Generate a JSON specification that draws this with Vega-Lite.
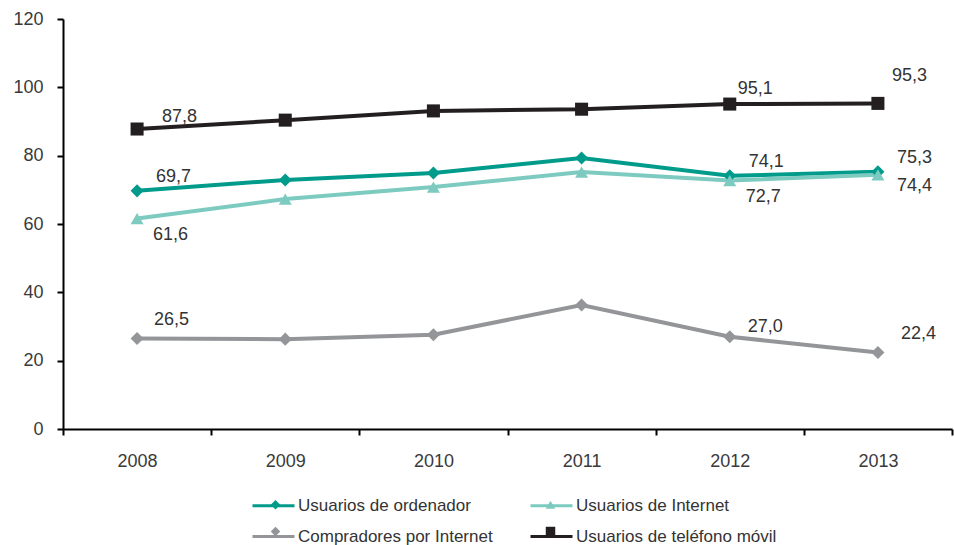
{
  "$schema": "https://vega.github.io/schema/vega-lite/v6.json",
  "width": 889,
  "height": 410,
  "autosize": "none",
  "padding": {"left": 63, "top": 19, "right": 2, "bottom": 116},
  "background": "white",
  "config": {
    "view": {"stroke": null},
    "font": "Liberation Sans",
    "locale": {"number": {"decimal": ",", "thousands": ".", "grouping": [3], "currency": ["", " €"]}},
    "axis": {"labelFont": "Liberation Sans", "labelColor": "#3a3a3a", "labelFontSize": 18, "domainColor": "#000000", "domainWidth": 2, "tickColor": "#000000", "tickWidth": 2, "tickSize": 6, "grid": false, "title": null},
    "text": {"align": "left", "baseline": "middle", "fontSize": 18, "color": "#333333", "font": "Liberation Sans"}
  },
  "data": {"values": [
    {"year": "2008", "series": "Usuarios de ordenador", "value": 69.7},
    {"year": "2009", "series": "Usuarios de ordenador", "value": 72.9},
    {"year": "2010", "series": "Usuarios de ordenador", "value": 74.9},
    {"year": "2011", "series": "Usuarios de ordenador", "value": 79.3},
    {"year": "2012", "series": "Usuarios de ordenador", "value": 74.1},
    {"year": "2013", "series": "Usuarios de ordenador", "value": 75.3},
    {"year": "2008", "series": "Usuarios de Internet", "value": 61.6},
    {"year": "2009", "series": "Usuarios de Internet", "value": 67.3},
    {"year": "2010", "series": "Usuarios de Internet", "value": 70.8},
    {"year": "2011", "series": "Usuarios de Internet", "value": 75.2},
    {"year": "2012", "series": "Usuarios de Internet", "value": 72.7},
    {"year": "2013", "series": "Usuarios de Internet", "value": 74.4},
    {"year": "2008", "series": "Compradores por Internet", "value": 26.5},
    {"year": "2009", "series": "Compradores por Internet", "value": 26.3},
    {"year": "2010", "series": "Compradores por Internet", "value": 27.6},
    {"year": "2011", "series": "Compradores por Internet", "value": 36.3},
    {"year": "2012", "series": "Compradores por Internet", "value": 27.0},
    {"year": "2013", "series": "Compradores por Internet", "value": 22.4},
    {"year": "2008", "series": "Usuarios de teléfono móvil", "value": 87.8},
    {"year": "2009", "series": "Usuarios de teléfono móvil", "value": 90.4},
    {"year": "2010", "series": "Usuarios de teléfono móvil", "value": 93.1},
    {"year": "2011", "series": "Usuarios de teléfono móvil", "value": 93.6},
    {"year": "2012", "series": "Usuarios de teléfono móvil", "value": 95.1},
    {"year": "2013", "series": "Usuarios de teléfono móvil", "value": 95.3}
  ]},
  "encoding": {
    "x": {"field": "year", "type": "ordinal", "scale": {"type": "band", "paddingInner": 0, "paddingOuter": 0},
      "axis": {"labelAngle": 0, "tickBand": "extent", "labelPadding": 17, "domainWidth": 2}},
    "y": {"field": "value", "type": "quantitative", "scale": {"domain": [0, 120], "nice": false},
      "axis": {"values": [0, 20, 40, 60, 80, 100, 120], "labelPadding": 14}}
  },
  "layer": [
    {
      "mark": {"type": "line", "strokeWidth": 4},
      "encoding": {
        "color": {"field": "series", "type": "nominal",
          "sort": ["Usuarios de ordenador", "Usuarios de Internet", "Compradores por Internet", "Usuarios de teléfono móvil"],
          "scale": {"range": ["#009b8b", "#7dcbc0", "#939598", "#231f20"]},
          "legend": {"orient": "none", "legendX": 188, "legendY": 464, "columns": 2, "title": null, "direction": "horizontal",
            "symbolType": "stroke", "symbolSize": 1764, "symbolStrokeWidth": 3, "labelFontSize": 17, "labelColor": "#333333",
            "labelFont": "Liberation Sans", "labelOffset": 2, "rowPadding": -19, "columnPadding": 31, "padding": 0, "labelLimit": 400}
        }
      }
    },
    {
      "mark": {"type": "point", "filled": true, "opacity": 1, "strokeWidth": 0},
      "encoding": {
        "fill": {"field": "series", "type": "nominal",
          "scale": {"domain": ["Usuarios de ordenador", "Usuarios de Internet", "Compradores por Internet", "Usuarios de teléfono móvil"],
            "range": ["#009b8b", "#7dcbc0", "#939598", "#231f20"]},
          "legend": {"orient": "none", "legendX": 204, "legendY": 477, "columns": 2, "title": null, "direction": "horizontal",
            "symbolSize": 90, "symbolStrokeWidth": 0, "labelFontSize": 17, "labelColor": "#333333", "labelOpacity": 0,
            "labelFont": "Liberation Sans", "labelOffset": 32, "rowPadding": 9, "columnPadding": 31, "padding": 0, "labelLimit": 400}
        },
        "shape": {"field": "series", "type": "nominal",
          "scale": {"domain": ["Usuarios de ordenador", "Usuarios de Internet", "Compradores por Internet", "Usuarios de teléfono móvil"],
            "range": ["diamond", "triangle-up", "diamond", "square"]},
          "legend": {"orient": "none", "legendX": 204, "legendY": 477, "columns": 2, "title": null, "direction": "horizontal",
            "symbolSize": 90, "symbolStrokeWidth": 0, "labelFontSize": 17, "labelColor": "#333333", "labelOpacity": 0,
            "labelFont": "Liberation Sans", "labelOffset": 32, "rowPadding": 9, "columnPadding": 31, "padding": 0, "labelLimit": 400}
        },
        "size": {"value": 170}
      }
    },
    {
      "transform": [{"filter": "datum.series == 'Usuarios de ordenador' && (datum.year == '2008' || datum.year == '2012' || datum.year == '2013')"}],
      "mark": {"type": "text", "dx": 19, "dy": -14},
      "encoding": {"text": {"field": "value", "type": "quantitative", "format": ".1f"}}
    },
    {
      "transform": [{"filter": "datum.series == 'Usuarios de teléfono móvil' && datum.year == '2008'"}],
      "mark": {"type": "text", "dx": 25, "dy": -12},
      "encoding": {"text": {"field": "value", "type": "quantitative", "format": ".1f"}}
    },
    {
      "transform": [{"filter": "datum.series == 'Usuarios de teléfono móvil' && datum.year == '2012'"}],
      "mark": {"type": "text", "dx": 8, "dy": -15},
      "encoding": {"text": {"field": "value", "type": "quantitative", "format": ".1f"}}
    },
    {
      "transform": [{"filter": "datum.series == 'Usuarios de teléfono móvil' && datum.year == '2013'"}],
      "mark": {"type": "text", "dx": 14, "dy": -27},
      "encoding": {"text": {"field": "value", "type": "quantitative", "format": ".1f"}}
    },
    {
      "transform": [{"filter": "datum.series == 'Compradores por Internet' && datum.year == '2008'"}],
      "mark": {"type": "text", "dx": 17, "dy": -18},
      "encoding": {"text": {"field": "value", "type": "quantitative", "format": ".1f"}}
    },
    {
      "transform": [{"filter": "datum.series == 'Compradores por Internet' && datum.year == '2012'"}],
      "mark": {"type": "text", "dx": 18, "dy": -10},
      "encoding": {"text": {"field": "value", "type": "quantitative", "format": ".1f"}}
    },
    {
      "transform": [{"filter": "datum.series == 'Compradores por Internet' && datum.year == '2013'"}],
      "mark": {"type": "text", "dx": 23, "dy": -18},
      "encoding": {"text": {"field": "value", "type": "quantitative", "format": ".1f"}}
    },
    {
      "transform": [{"filter": "datum.series == 'Usuarios de Internet' && (datum.year == '2008' || datum.year == '2012')"}],
      "mark": {"type": "text", "dx": 16, "dy": 16},
      "encoding": {"text": {"field": "value", "type": "quantitative", "format": ".1f"}}
    },
    {
      "transform": [{"filter": "datum.series == 'Usuarios de Internet' && datum.year == '2013'"}],
      "mark": {"type": "text", "dx": 19, "dy": 11},
      "encoding": {"text": {"field": "value", "type": "quantitative", "format": ".1f"}}
    }
  ]
}
